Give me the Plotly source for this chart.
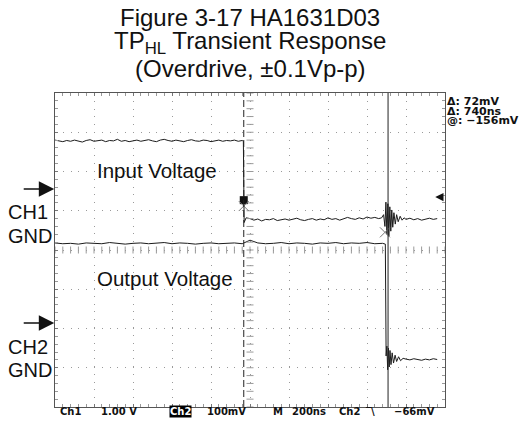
import plotly.graph_objects as go

# ---------------- data (time in ns, level in screen divisions, centre = 0) -------------
in_t = [0, 20, 40, 60, 80, 100, 120, 140, 160, 180, 200, 220, 240, 260, 280, 300, 320, 340,
        360, 380, 400, 420, 440, 460, 480, 500, 520, 540, 560, 580, 600, 620, 640, 660, 680,
        700, 720, 740, 760, 780, 800, 820, 840, 860, 880, 900, 920, 940, 960,
        966, 970, 980,
        1000, 1020, 1040, 1060, 1080, 1100, 1120, 1140, 1160, 1180, 1200, 1220, 1240, 1260,
        1280, 1300, 1320, 1340, 1360, 1380, 1400, 1420, 1440, 1460, 1480, 1500, 1520, 1540,
        1560, 1580, 1600, 1620, 1640, 1660,
        1675, 1685, 1692, 1697, 1702, 1707, 1712, 1717, 1722, 1727, 1732, 1738, 1745, 1752,
        1760, 1770, 1780, 1790,
        1800, 1820, 1840, 1860, 1880, 1900, 1920, 1940, 1960]
in_v = [2.80, 2.78, 2.76, 2.79, 2.77, 2.80, 2.78, 2.75, 2.79, 2.81, 2.77, 2.78, 2.80, 2.76,
        2.79, 2.78, 2.82, 2.77, 2.79, 2.76, 2.78, 2.80, 2.77, 2.79, 2.81, 2.78, 2.76, 2.80,
        2.82, 2.79, 2.77, 2.80, 2.78, 2.76, 2.79, 2.81, 2.78, 2.77, 2.80, 2.79, 2.76, 2.78,
        2.80, 2.77, 2.79, 2.78, 2.80, 2.77, 2.79,
        2.77, 0.70, 0.82,
        0.80, 0.76, 0.79, 0.74, 0.78, 0.77, 0.80, 0.75, 0.78, 0.79, 0.76, 0.78, 0.81, 0.77,
        0.75, 0.78, 0.80, 0.76, 0.79, 0.77, 0.82, 0.78, 0.80, 0.76, 0.79, 0.83, 0.80, 0.78,
        0.82, 0.79, 0.84, 0.81, 0.83, 0.80,
        0.82, 0.90, 0.60, 1.22, 0.40, 1.18, 0.35, 1.10, 0.48, 1.02, 0.58, 0.95, 0.66, 0.90,
        0.72, 0.86, 0.76, 0.82,
        0.78, 0.81, 0.77, 0.80, 0.76, 0.79, 0.81, 0.78, 0.80]

out_t = [0, 40, 80, 120, 160, 200, 240, 280, 320, 360, 400, 440, 480, 520, 560, 600, 640,
         680, 720, 760, 800, 840, 880, 920, 960, 1000, 1040, 1080, 1120, 1160, 1200, 1240,
         1280, 1320, 1360, 1400, 1440, 1480, 1520, 1560, 1600, 1640, 1680,
         1694, 1698, 1702, 1706, 1710, 1714, 1718, 1723, 1729, 1736, 1744, 1752, 1762, 1772,
         1785,
         1800, 1820, 1840, 1860, 1880, 1900, 1920, 1940, 1960]
out_v = [0.18, 0.16, 0.17, 0.15, 0.18, 0.17, 0.16, 0.19, 0.17, 0.15, 0.17, 0.18, 0.16, 0.17,
         0.19, 0.16, 0.18, 0.17, 0.15, 0.17, 0.18, 0.16, 0.17, 0.18, 0.16, 0.25, 0.18, 0.16,
         0.17, 0.19, 0.16, 0.18, 0.17, 0.15, 0.18, 0.17, 0.19, 0.16, 0.18, 0.17, 0.19, 0.16,
         0.17,
         0.15, -2.70, -2.45, -3.05, -2.50, -2.98, -2.56, -2.92, -2.62, -2.88, -2.68, -2.84,
         -2.72, -2.82, -2.76,
         -2.78, -2.80, -2.77, -2.79, -2.81, -2.78, -2.80, -2.77, -2.79]

cursor_t = [968, 1708]            # time cursors (dashed, solid)
trig_pos = [968, 1.27]            # trigger position marker
x_marks_t = [968, 1692]           # cursor cross marks
x_marks_v = [1.12, 0.45]
trig_level = [1950, 1.35]         # trigger level arrow

title_lines = ["Figure 3-17 HA1631D03",
               "TP<sub>HL</sub> Transient Response",
               "(Overdrive, \u00b10.1Vp-p)"]
readout_right = ["\u0394: 72mV", "\u0394: 740ns", "@: \u2212156mV"]
readout_bottom = ["Ch1", "1.00 V", "Ch2", "100mV", "M", "200ns", "Ch2", "\u203e\\", "\u221266mV"]

# ---------------- figure ----------------
TRACE = "#1c1c1c"
GRID = "#9a9a9a"

fig = go.Figure()
fig.add_trace(go.Scatter(x=in_t, y=in_v, mode="lines",
                         line=dict(color=TRACE, width=1), hoverinfo="skip"))
fig.add_trace(go.Scatter(x=out_t, y=out_v, mode="lines",
                         line=dict(color=TRACE, width=1), hoverinfo="skip"))

# centre-axis ticks of the graticule
cx = [i * 40 for i in range(51)]
cy = [-4 + i * 0.2 for i in range(41)]
fig.add_trace(go.Scatter(x=cx, y=[0] * len(cx), mode="markers",
                         marker=dict(symbol="line-ns", size=5, line=dict(color=GRID, width=1)),
                         hoverinfo="skip"))
fig.add_trace(go.Scatter(x=[1000] * len(cy), y=cy, mode="markers",
                         marker=dict(symbol="line-ew", size=5, line=dict(color=GRID, width=1)),
                         hoverinfo="skip"))

# markers
fig.add_trace(go.Scatter(x=[trig_pos[0]], y=[trig_pos[1]], mode="markers",
                         marker=dict(symbol="square", size=8, color="#111"), hoverinfo="skip"))
fig.add_trace(go.Scatter(x=x_marks_t, y=x_marks_v, mode="markers",
                         marker=dict(symbol="x-thin", size=10, line=dict(color="#777", width=1)),
                         hoverinfo="skip"))

# cursors
fig.add_shape(type="line", xref="x", yref="paper", x0=cursor_t[0], x1=cursor_t[0], y0=0, y1=1,
              line=dict(color="#222", width=1, dash="7px,3px"))
fig.add_shape(type="line", xref="x", yref="paper", x0=cursor_t[1], x1=cursor_t[1], y0=0, y1=1,
              line=dict(color="#222", width=1))

ann = []
FONT = "Liberation Sans, Arial, sans-serif"
# title
for txt, yp in zip(title_lines, [1.242, 1.160, 1.0796]):
    ann.append(dict(text=txt, xref="paper", yref="paper", x=0.5, y=yp, xanchor="center",
                    yanchor="middle", showarrow=False, font=dict(family=FONT, size=24, color="#111")))
# labels in the plot
ann.append(dict(text="Input Voltage", xref="paper", yref="paper", x=0.1026, y=0.752,
                xanchor="left", yanchor="middle", showarrow=False,
                font=dict(family=FONT, size=20.5, color="#111")))
ann.append(dict(text="Output Voltage", xref="paper", yref="paper", x=0.1026, y=0.41,
                xanchor="left", yanchor="middle", showarrow=False,
                font=dict(family=FONT, size=20.5, color="#111")))
# left channel labels
for txt, py in [("CH1", 212), ("GND", 236), ("CH2", 347), ("GND", 370)]:
    ann.append(dict(text=txt, xref="paper", yref="paper", x=(6 - 55) / 390, y=(407 - py) / 314,
                    xanchor="left", yanchor="middle", showarrow=False,
                    font=dict(family=FONT, size=20, color="#111")))
# left arrows
for py in [189, 323]:
    ann.append(dict(text="", xref="paper", yref="paper", x=-0.002, y=(407 - py) / 314,
                    ax=-32, ay=0, showarrow=True, arrowhead=2, arrowsize=2.2, arrowwidth=1.4,
                    arrowcolor="#111"))
# trigger level arrow
ann.append(dict(text="", xref="x", yref="y", x=trig_level[0], y=trig_level[1],
                ax=9, ay=0, showarrow=True, arrowhead=2, arrowsize=1.1, arrowwidth=1.5,
                arrowcolor="#111"))
# right readout
for txt, py in zip(readout_right, [101.5, 111, 120.5]):
    ann.append(dict(text="<b>" + txt + "</b>", xref="paper", yref="paper",
                    x=(446 - 55) / 390, y=(407 - py) / 314,
                    xanchor="left", yanchor="middle", showarrow=False, borderpad=0,
                    font=dict(family="DejaVu Sans, sans-serif", size=11, color="#111")))
# bottom readout
bx = [59, 100, 169, 206, 272, 291, 338, 365, 393]
for i, (txt, px) in enumerate(zip(readout_bottom, bx)):
    hl = (i == 2)
    ann.append(dict(text="<b>" + txt + "</b>", xref="paper", yref="paper", x=(px - 55) / 390,
                    y=(407 - 411) / 314, xanchor="left", yanchor="middle", showarrow=False,
                    bgcolor="#000" if hl else None, borderpad=0,
                    font=dict(family="DejaVu Sans, sans-serif", size=10,
                              color="#fff" if hl else "#111")))

axis_common = dict(showgrid=True, gridcolor=GRID, griddash="1px,6.8px", gridwidth=1,
                   zeroline=False, showticklabels=False, showline=True, linecolor="#555",
                   linewidth=1, mirror="ticks", ticks="inside", ticklen=3, tickcolor="#777")
fig.update_xaxes(range=[0, 2000], dtick=200, tick0=0,
                 minor=dict(dtick=40, ticks="inside", ticklen=3, tickcolor="#999", showgrid=False),
                 **axis_common)
fig.update_yaxes(range=[-4, 4], dtick=1, tick0=0,
                 minor=dict(dtick=0.2, ticks="inside", ticklen=3, tickcolor="#999", showgrid=False),
                 **axis_common)

fig.update_layout(width=520, height=423, margin=dict(l=55, r=75, t=93, b=16, pad=0),
                  paper_bgcolor="white", plot_bgcolor="white", showlegend=False,
                  annotations=ann)

fig.write_html("out.html", config={"displayModeBar": False},
               post_script="document.body.style.margin='0';")
